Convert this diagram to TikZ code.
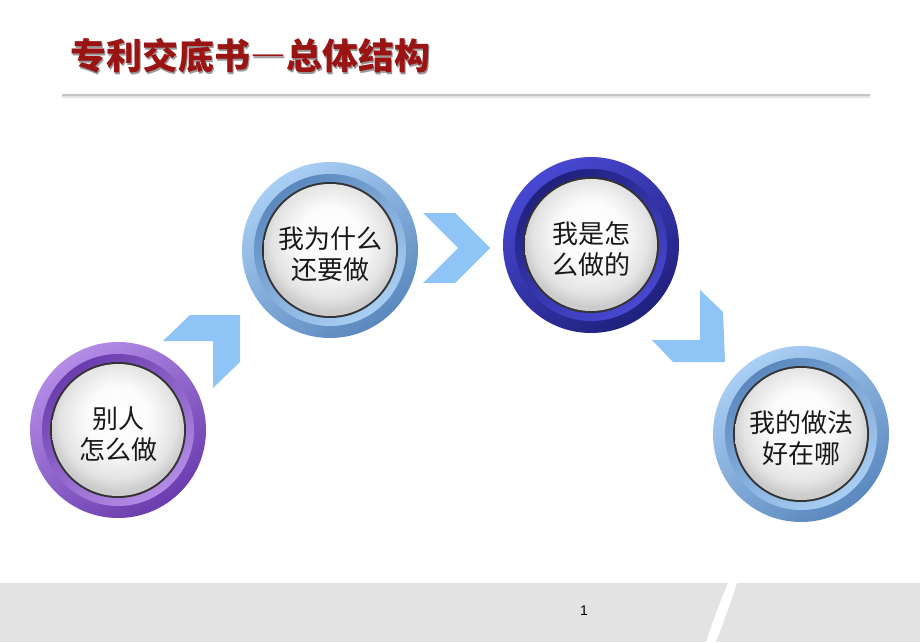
\documentclass[tikz,border=0pt]{standalone}
\usepackage{fontspec}
\setmainfont{Liberation Sans}
\newfontfamily\cjk{Noto Sans CJK SC}
\definecolor{titlered}{HTML}{9A1414}
\definecolor{chev}{HTML}{8EC4F6}
\definecolor{purL}{HTML}{B48CE6}
\definecolor{purD}{HTML}{6A3CAE}
\definecolor{lbL}{HTML}{AACFF4}
\definecolor{lbD}{HTML}{5A88BE}
\definecolor{dbL}{HTML}{4848D2}
\definecolor{dbD}{HTML}{20207E}
\definecolor{foot}{HTML}{E3E3E3}
\pgfdeclareradialshading{knobdisc}{\pgfpoint{0bp}{6bp}}{%
  color(0bp)=(white); color(12bp)=(white!97!gray); color(22bp)=(gray!22); color(26bp)=(gray!40); color(50bp)=(gray!40)}
\tikzset{
  knobtext/.style={font=\cjk\fontsize{26}{31}\selectfont, align=center, text=black!90, inner sep=0pt},
  chevron/.style={fill=chev, draw=none},
  titletext/.style={anchor=west, font=\cjk\bfseries\fontsize{36}{40}\selectfont, inner sep=0pt},
}
\newcommand\knobdraw[6]{%
  \shade[top color=#4, bottom color=#5, shading angle=35] (#2,#3) circle[radius=88pt];
  \shade[top color=#5, bottom color=#4, shading angle=35] (#2,#3) circle[radius=76pt];
  \fill[black!80] (#2,#3) circle[radius=68pt];
  \shade[shading=knobdisc] (#2,#3) circle[radius=66pt];
  \node[knobtext] (#1) at (#2,#3+4) {#6};
}
\newcommand\fwdash{{\addfontfeature{CharacterWidth=Full}—}}
\begin{document}
\begin{tikzpicture}[x=1pt,y=-1pt]
\useasboundingbox (0,0) rectangle (920,642);
\fill[white] (0,0) rectangle (920,642);
% title
\node[titletext, text=black!40] (titleshadow) at (71.5,57.5) {专利交底书\fwdash 总体结构};
\node[titletext, text=titlered] (title) at (70,56) {专利交底书\fwdash 总体结构};
% rule
\draw[gray!45, line width=1.4pt] (62,95) -- (870,95);
\draw[gray!20, line width=1.2pt] (62,97) -- (870,97);
% footer
\fill[foot] (0,583) rectangle (920,642);
\fill[white] (728,583) -- (737,583) .. controls (728,610) .. (716,642) -- (706,642) .. controls (717,610) .. (728,583) -- cycle;
\node[font=\fontsize{14}{16}\selectfont, inner sep=0pt] (page) at (584,611) {1};
% chevrons
\fill[chevron] (163,341) -- (190,315) -- (240,315) -- (240,362) -- (213,388) -- (213,341) -- cycle;
\fill[chevron] (423,213) -- (455,213) -- (490,248) -- (455,283) -- (423,283) -- (458,248) -- cycle;
\fill[chevron] (700,290) -- (723,312) -- (725,362) -- (673,362) -- (652,340) -- (700,340) -- cycle;
% knobs
\knobdraw{k1}{118}{430}{purL}{purD}{别人\\怎么做}
\knobdraw{k2}{330}{250}{lbL}{lbD}{我为什么\\还要做}
\knobdraw{k3}{591}{245}{dbL}{dbD}{我是怎\\么做的}
\knobdraw{k4}{801}{434}{lbL}{lbD}{我的做法\\好在哪}
\end{tikzpicture}
\end{document}
